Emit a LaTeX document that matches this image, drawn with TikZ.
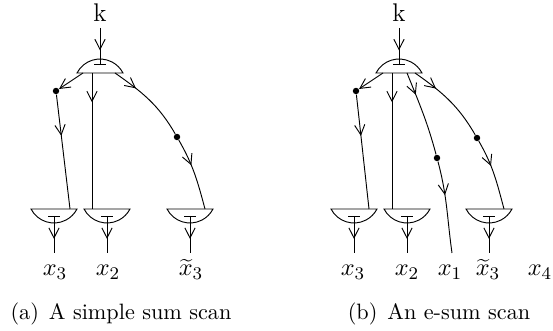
\documentclass[tikz,border=0pt]{standalone}
\usetikzlibrary{arrows.meta,decorations.markings}
\tikzset{
  mybarb/.tip={Straight Barb[length=4.5pt,width=4.6pt]},
  marr/.style={postaction={decorate,decoration={markings,mark=at position #1 with {\arrow{mybarb}}}}},
  tiparr/.style={-mybarb},
  bigdot/.style={circle,fill,inner sep=0pt,minimum size=2.9pt},
  upgate/.pic={\draw (-23,0) arc[start angle=152.6,end angle=27.4,radius=25.9] -- cycle; \draw (-6,9)--(6,9);},
  downgate/.pic={\draw (-23,0) arc[start angle=-152.6,end angle=-27.4,radius=25.9] -- cycle; \draw (-6,-7)--(6,-7);},
  lbl/.style={anchor=base,inner sep=0pt,font=\fontsize{11}{13}\selectfont},
  caplbl/.style={anchor=base,inner sep=0pt},
  klbl/.style={anchor=base,inner sep=0pt,outer sep=2.7pt,font=\fontsize{11.5}{13}\selectfont},
}
\begin{document}
\begin{tikzpicture}[x=0.45pt,y=0.45pt,line width=0.42pt]
\useasboundingbox (0,0) rectangle (553,-331);
% ---------- panel (a)
\node[klbl] (ka) at (100,-22) {k};
\pic at (100,-73) {upgate};
\coordinate (ta) at (100,-64);
\draw[marr=0.62] (ka) -- (ta);
\coordinate (oa1) at (83,-73);
\coordinate (oa2) at (92,-73);
\coordinate (oa3) at (115,-73);
\node[bigdot] (da1) at (56,-91) {};
\node[bigdot] (da3) at (177,-137) {};
\coordinate (ia1) at (70,-209);
\coordinate (ia2) at (92,-209);
\coordinate (ia3) at (205,-209);
\draw[tiparr] (oa1) -- (da1);
\draw[marr=0.36] (da1) -- (ia1);
\draw[marr=0.215] (oa2) -- (ia2);
\draw[marr=0.3] (oa3) to[out=-35,in=120] (da3);
\draw[marr=0.38] (da3) to[out=-60,in=105] (ia3);
\pic at (54,-209) {downgate};
\pic at (107,-209) {downgate};
\pic at (190,-209) {downgate};
\foreach \n/\x in {ga1/54,ga2/107,ga3/190}{
  \coordinate (\n b) at (\x,-216);
  \coordinate (\n o) at (\x,-253);
  \draw[marr=0.62] (\n b) -- (\n o);
}
\node[lbl] (xa3) at (55,-276) {$x_3$};
\node[lbl] (xa2) at (108,-276) {$x_2$};
\node[lbl] (xat) at (191,-276) {$\widetilde{x}_3$};
\node[caplbl] (capa) at (121,-320) {(a)\hspace{4.5pt}A simple sum scan};
% ---------- panel (b)
\node[klbl] (kb) at (399,-22) {k};
\pic at (399,-73) {upgate};
\coordinate (tb) at (399,-64);
\draw[marr=0.62] (kb) -- (tb);
\coordinate (ob1) at (383,-73);
\coordinate (ob2) at (392,-73);
\coordinate (ob3) at (407,-73);
\coordinate (ob4) at (415,-73);
\node[bigdot] (db1) at (356,-91) {};
\node[bigdot] (db3) at (437,-158) {};
\node[bigdot] (db4) at (477,-138) {};
\coordinate (ib1) at (369,-209);
\coordinate (ib2) at (392,-209);
\coordinate (eb3) at (452,-253);
\coordinate (ib4) at (504,-209);
\draw[tiparr] (ob1) -- (db1);
\draw[marr=0.36] (db1) -- (ib1);
\draw[marr=0.215] (ob2) -- (ib2);
\draw[marr=0.27] (ob3) to[out=-68,in=105] (db3);
\draw[marr=0.37] (db3) to[out=-75,in=98] (eb3);
\draw[marr=0.3] (ob4) to[out=-35,in=120] (db4);
\draw[marr=0.38] (db4) to[out=-60,in=105] (ib4);
\pic at (354,-209) {downgate};
\pic at (407,-209) {downgate};
\pic at (489,-209) {downgate};
\foreach \n/\x in {gb1/354,gb2/407,gb3/489}{
  \coordinate (\n b) at (\x,-216);
  \coordinate (\n o) at (\x,-253);
  \draw[marr=0.62] (\n b) -- (\n o);
}
\node[lbl] (xb3) at (353,-276) {$x_3$};
\node[lbl] (xb2) at (407,-276) {$x_2$};
\node[lbl] (xb1) at (450,-276) {$x_1$};
\node[lbl] (xbt) at (488,-276) {$\widetilde{x}_3$};
\node[lbl] (xb4) at (540,-276) {$x_4$};
\node[caplbl] (capb) at (439,-320) {(b)\hspace{4.5pt}An e-sum scan};
\end{tikzpicture}
\end{document}
